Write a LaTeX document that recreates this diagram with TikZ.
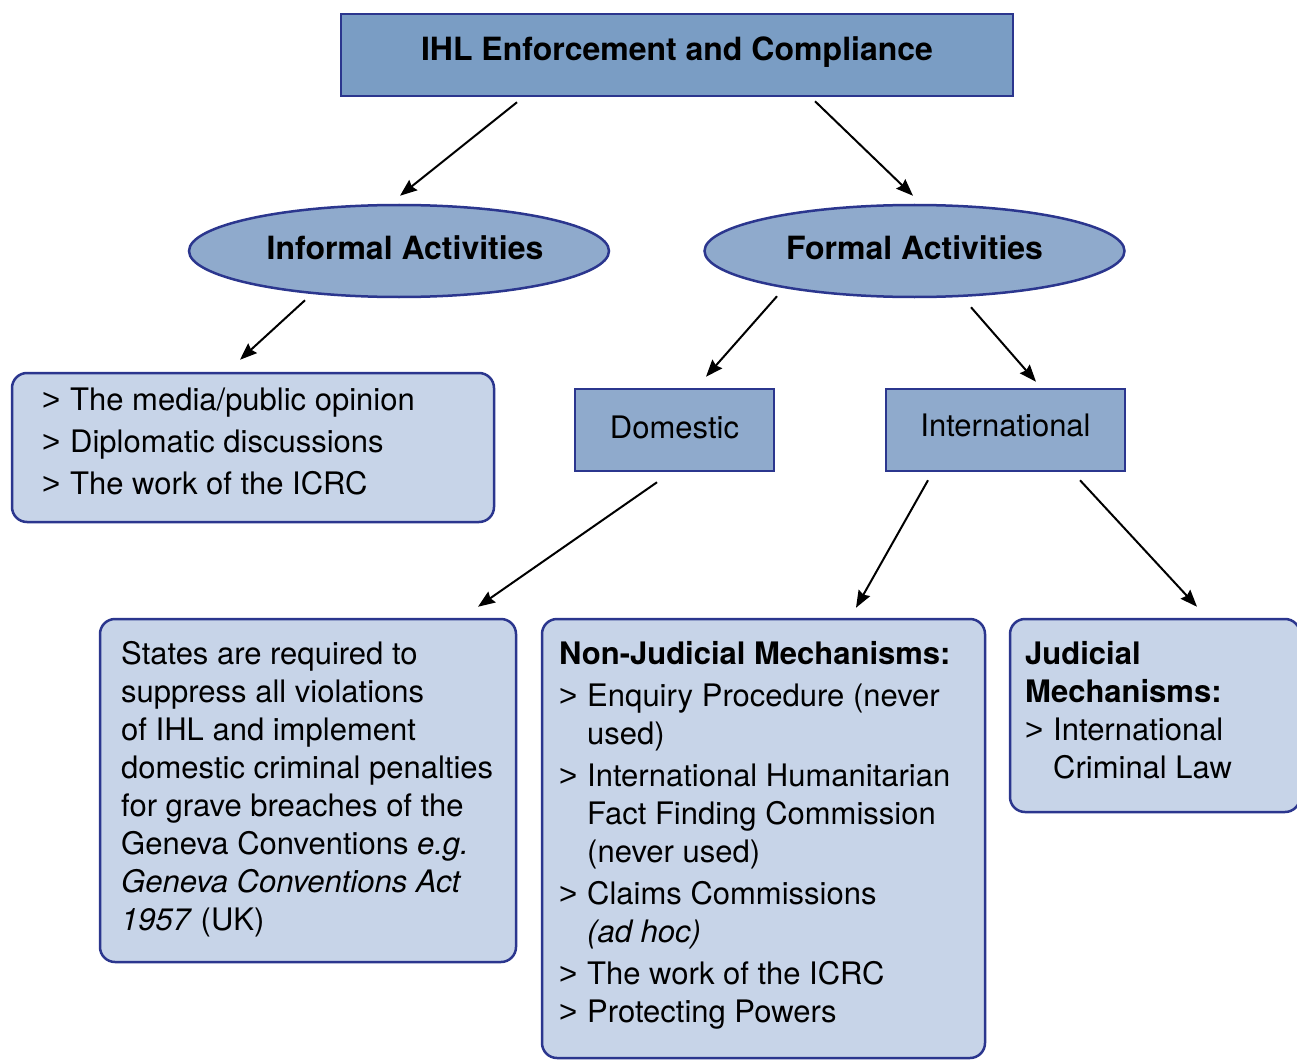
\documentclass[tikz,border=0pt]{standalone}
\usepackage{fontspec}
\setmainfont{TeX Gyre Heros}
\newfontfamily\gtfont{Liberation Sans}
\usetikzlibrary{shapes.geometric,arrows.meta}
\definecolor{bordc}{HTML}{2B368E}
\definecolor{topc}{HTML}{7A9DC4}
\definecolor{midc}{HTML}{8FAACC}
\definecolor{lightc}{HTML}{C7D4E8}
\newcommand{\fsz}{\fontsize{31}{38}\selectfont}
\newcommand{\itm}{\makebox[28pt][l]{\gtfont>}}
\newcommand{\hind}{\hspace*{28pt}}
\newcommand{\fst}{\rule{0pt}{24pt}}
\begin{document}
\begin{tikzpicture}[x=1pt,y=-1pt,
  topbox/.style={draw=bordc,line width=2.5pt,fill=topc,inner sep=0pt,
    font=\fontsize{32}{38}\selectfont\bfseries},
  ell/.style={ellipse,draw=bordc,line width=2.5pt,fill=midc,inner sep=0pt,
    minimum width=420pt,minimum height=92pt,font=\fontsize{32}{38}\selectfont\bfseries},
  mbox/.style={draw=bordc,line width=2.5pt,fill=midc,inner sep=0pt,font=\fsz},
  lbox/.style={draw=bordc,line width=2.5pt,fill=lightc,rounded corners=15pt,inner sep=0pt},
  txt/.style={anchor=north west,inner sep=0pt,align=left,font=\fsz},
  arr/.style={line width=2pt,-{Stealth[length=17pt,width=13pt,inset=2pt]}}]
\useasboundingbox (0,0) rectangle (1297,1059);
\clip (0,0) rectangle (1297,1059);
\fill[white] (0,0) rectangle (1297,1059);

\node[topbox,minimum width=672pt,minimum height=82pt,text height=23pt,text depth=11pt] (top) at (677,55) {IHL Enforcement and Compliance};
\node[ell,text height=23pt,text depth=6pt] (inf) at (399,251) {\hspace*{12pt}Informal Activities};
\node[ell,text height=23pt,text depth=6pt] (form) at (914.5,251) {Formal Activities};
\node[lbox,minimum width=482pt,minimum height=149pt] (med) at (253,447.5) {};
\node[mbox,minimum width=199pt,minimum height=82pt,text height=22pt,text depth=6pt] (dom) at (674.5,430) {Domestic};
\node[mbox,minimum width=239pt,minimum height=82pt,text height=22pt,text depth=10pt] (intl) at (1005.5,430) {International};
\node[lbox,minimum width=416pt,minimum height=343pt] (states) at (308,790.5) {};
\node[lbox,minimum width=443pt,minimum height=439pt] (nj) at (763.5,838.5) {};
\node[lbox,minimum width=290pt,minimum height=193pt] (jud) at (1155,715.5) {};

\node[txt] (medtxt) at (42,386) {\fst\itm The media/public opinion\\[4pt]\itm Diplomatic discussions\\[4pt]\itm The work of the ICRC};
\node[txt] (statestxt) at (121,640) {\fst States are required to\\ suppress all violations\\ of IHL and implement\\ domestic criminal penalties\\ for grave breaches of the\\ Geneva Conventions \textit{e.g.}\\ \textit{Geneva Conventions Act}\\ \textit{1957} (UK)};
\node[txt] (njtxt) at (559,640) {\fst\textbf{Non-Judicial Mechanisms:}\\[4pt]
  \itm Enquiry Procedure (never\\ \hind used)\\[4pt]
  \itm International Humanitarian\\ \hind Fact Finding Commission\\ \hind (never used)\\[4pt]
  \itm Claims Commissions\\ \hind\textit{(ad hoc)}\\[4pt]
  \itm The work of the ICRC\\ \itm Protecting Powers};
\node[txt] (judtxt) at (1025,640) {\fst\textbf{Judicial}\\ \textbf{Mechanisms:}\\ \itm International\\ \hind Criminal Law};

\draw[arr] ([shift={(-160,5)}]top.south) -- ([shift={(1,-8)}]inf.north);
\draw[arr] ([shift={(138,4)}]top.south) -- ([shift={(-1.5,-8)}]form.north);
\draw[arr] ([shift={(-94,2)}]inf.south) -- ([shift={(-13,-12)}]med.north);
\draw[arr] ([shift={(-137.5,-2)}]form.south) -- ([shift={(31.5,-11)}]dom.north);
\draw[arr] ([shift={(56.5,9)}]form.south) -- ([shift={(30.5,-6)}]intl.north);
\draw[arr] ([shift={(-17.5,10)}]dom.south) -- ([shift={(170,-11)}]states.north);
\draw[arr] ([shift={(-77.5,8)}]intl.south) -- ([shift={(92.5,-10)}]nj.north);
\draw[arr] ([shift={(74.5,8)}]intl.south) -- ([shift={(42,-11)}]jud.north);
\end{tikzpicture}
\end{document}
